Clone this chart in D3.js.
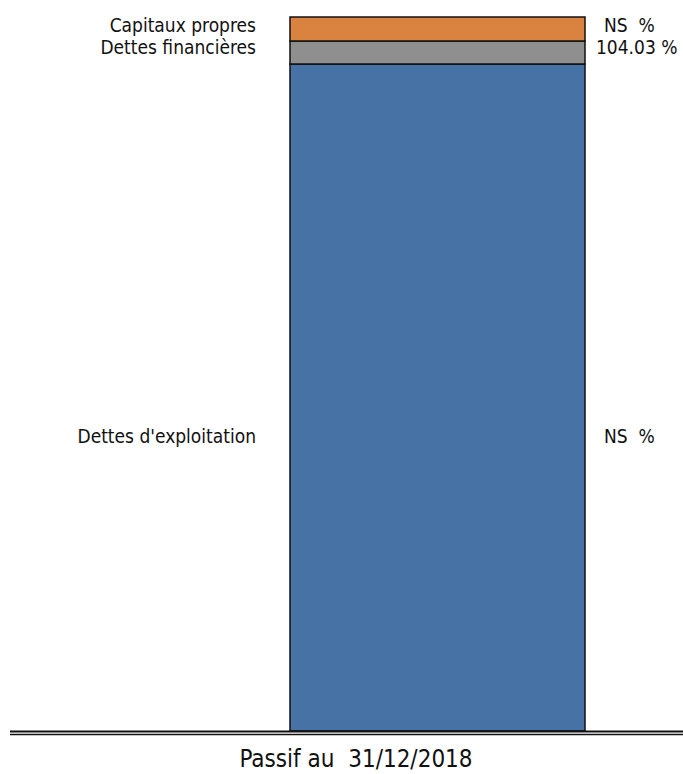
<!DOCTYPE html>
<html><head><meta charset="utf-8">
<script src="https://cdn.jsdelivr.net/npm/d3@7"></script>
<style>
body{margin:0;background:#fff;}
svg text{font-family:"Liberation Sans Narrow","DejaVu Sans Condensed","Roboto Condensed",sans-serif;fill:#111;white-space:pre;}
</style></head><body>
<svg id="c" width="683" height="774"></svg>
<script>
// Data (stacked from bottom to top)
const categories = ["Dettes d'exploitation", "Dettes financières", "Capitaux propres"];
const values = [667, 23, 24];            // segment sizes
const valueLabels = ["NS  %", "104.03 %", "NS  %"];
const labelAt = [295, 684, 706];         // label anchor in data units
const colors = ["#4672A6", "#8F8F8F", "#DA823F"];
const xCategory = ["Passif au  31/12/2018"];

const svg = d3.select("#c");
const total = d3.sum(values);
const y = d3.scaleLinear().domain([0, total]).range([731, 17]);
const barX0 = 290, barW = 295;

let acc = 0;
const stack = values.map((v, i) => { const s = {i, y0: acc, y1: acc + v}; acc += v; return s; });

svg.selectAll("rect.seg").data(stack).join("rect")
  .attr("class", "seg")
  .attr("x", barX0)
  .attr("width", barW)
  .attr("y", d => y(d.y1))
  .attr("height", d => y(d.y0) - y(d.y1))
  .attr("fill", d => colors[d.i])
  .attr("stroke", "#111")
  .attr("stroke-width", 1.5);

svg.selectAll("text.cat").data(stack).join("text")
  .attr("class", "cat")
  .attr("x", 256)
  .attr("y", d => y(labelAt[d.i]))
  .attr("dy", "0.35em")
  .attr("text-anchor", "end")
  .attr("font-size", 19)
  .text(d => categories[d.i]);

svg.selectAll("text.val").data(stack).join("text")
  .attr("class", "val")
  .attr("x", d => d.i === 1 ? 596 : 604)
  .attr("y", d => y(labelAt[d.i]))
  .attr("dy", "0.35em")
  .attr("font-size", 19)
  .text(d => valueLabels[d.i]);

// baseline (double line)
svg.append("line").attr("x1", 10).attr("x2", 683).attr("y1", 731.5).attr("y2", 731.5)
  .attr("stroke", "#111").attr("stroke-width", 2);
svg.append("line").attr("x1", 10).attr("x2", 683).attr("y1", 734.5).attr("y2", 734.5)
  .attr("stroke", "#111").attr("stroke-width", 1.5);

svg.append("text")
  .attr("x", 356).attr("y", 759).attr("dy", "0.35em")
  .attr("text-anchor", "middle").attr("font-size", 24)
  .text(xCategory[0]);
</script>
</body></html>
